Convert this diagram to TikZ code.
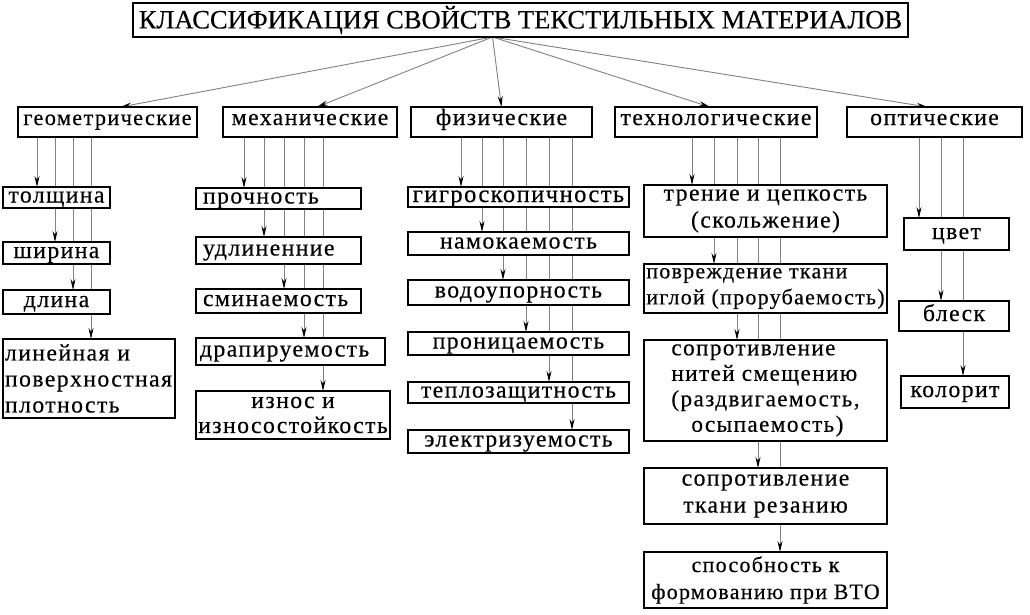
\documentclass[tikz,border=0pt]{standalone}
\usepackage{fontspec}
\setmainfont{Liberation Serif}[FakeBold=0.4]
\newfontfamily\boxfont{Liberation Serif}[LetterSpace=6, FakeBold=0.4]
\newcommand{\boxsize}[2]{\boxfont\fontsize{#1}{#2}\selectfont}
\usetikzlibrary{positioning}
\usetikzlibrary{arrows.meta}
\usetikzlibrary{backgrounds}

\tikzset{
	box/.style={draw, line width=2.4pt, fill=white, inner sep=1pt, outer sep=0pt,
		font=\boxsize{23.7}{27}},
	midbox/.style={box, align=center},
	leftbox/.style={box, align=left, inner xsep=5pt, text width=#1},
	catbox/.style={midbox, minimum height=30pt, text height=14pt, text depth=8pt},
	oneline/.style={text height=15pt, text depth=5pt, inner ysep=0pt},
	feed/.style={draw=gray, line width=0.9pt, -{Stealth[black, length=11pt, width=5pt]}}
}

\begin{document}
\begin{tikzpicture}[x=1pt, y=-1pt]
	\useasboundingbox (0,0) rectangle (1030,615);
	
	\node[
	midbox,
	minimum width=775pt,
	minimum height=34pt,
	font=\fontsize{26.5}{28}\selectfont
	] (Title) at (520.5,20) {КЛАССИФИКАЦИЯ СВОЙСТВ ТЕКСТИЛЬНЫХ МАТЕРИАЛОВ};
	
	\coordinate (Hub) at ([xshift=-28pt]Title.south);
	
	% ---
	
	\node[
	catbox,
	minimum width=179pt,
	font=\boxsize{22.3}{27}
	] (Geom) at (107.5,122) {геометрические};
	
	\node[
	catbox,
	minimum width=174pt,
	right=26pt of Geom
	] (Mech) {механические};
	
	\node[
	catbox,
	minimum width=181pt,
	right=14pt of Mech
	] (Phys) {физические};
	
	\node[
	catbox,
	minimum width=202pt,
	right=23pt of Phys
	] (Tech) {технологические};
	
	\node[
	catbox,
	minimum width=175pt,
	right=30pt of Tech
	] (Opt) {оптические};
	
	% ---
	
	\node[
	midbox,
	oneline,
	minimum width=107pt,
	minimum height=21pt,
	anchor=north west
	] (Thick) at (3,187) {толщина};
	
	\node[
	midbox,
	oneline,
	minimum width=107pt,
	minimum height=22pt,
	below=34pt of Thick
	] (Wide) {ширина};
	
	\node[
	midbox,
	oneline,
	minimum width=107pt,
	minimum height=24pt,
	below=26pt of Wide
	] (Long) {длина};
	
	\node[
	leftbox=168pt,
	inner xsep=2pt,
	inner ysep=0pt,
	minimum height=79pt,
	font=\boxsize{23.7}{26},
	below=25pt of Long.south west,
	anchor=north west
	] (Dens) {линейная и\\поверхностная\\плотность};
	
	% ---
	
	\node[
	leftbox=151pt,
	oneline,
	inner xsep=7pt,
	minimum height=21pt,
	anchor=north west
	] (Strength) at (196,188) {прочность};
	
	\node[
	leftbox=151pt,
	oneline,
	inner xsep=7pt,
	minimum height=27pt,
	below=28pt of Strength
	] (Elong) {удлиненние};
	
	\node[
	leftbox=151pt,
	oneline,
	inner xsep=7pt,
	minimum height=24pt,
	below=25pt of Elong
	] (Crease) {сминаемость};
	
	\node[
	leftbox=181pt,
	oneline,
	inner xsep=4pt,
	minimum height=27pt,
	below=25pt of Crease.south west,
	anchor=north west
	] (Drape) {драпируемость};
	
	\node[
	midbox,
	inner ysep=0pt,
	minimum width=194pt,
	minimum height=48pt,
	font=\boxsize{23.7}{25},
	below=26pt of Drape.south west,
	anchor=north west
	] (Wear) {износ и\\износостойкость};
	
	% ---
	
	\node[
	midbox,
	oneline,
	minimum width=221pt,
	minimum height=20pt,
	font=\boxsize{24.5}{28},
	anchor=north west
	] (Hygro) at (408,187) {гигроскопичность};
	
	\node[
	midbox,
	oneline,
	minimum width=221pt,
	minimum height=23pt,
	below=25pt of Hygro
	] (Wet) {намокаемость};
	
	\node[
	midbox,
	oneline,
	minimum width=221pt,
	minimum height=25pt,
	below=25pt of Wet
	] (Water) {водоупорность};
	
	\node[
	midbox,
	oneline,
	minimum width=221pt,
	minimum height=23pt,
	below=27pt of Water
	] (Perm) {проницаемость};
	
	\node[
	midbox,
	oneline,
	minimum width=221pt,
	minimum height=21pt,
	below=27pt of Perm
	] (Heat) {теплозащитность};
	
	\node[
	midbox,
	oneline,
	minimum width=221pt,
	minimum height=23pt,
	below=27pt of Heat
	] (Electr) {электризуемость};
	
	% ---
	
	\node[
	midbox,
	minimum width=243pt,
	minimum height=52pt,
	inner ysep=0pt,
	anchor=north west
	] (Fric) at (644,185) {трение и цепкость\\(скольжение)};
	
	\node[
	box,
	align=left,
	minimum width=243pt,
	minimum height=49pt,
	font=\boxsize{21.9}{26},
	below=27pt of Fric
	] (Dmg) {повреждение ткани\\иглой (прорубаемость)};
	
	\node[
	box,
	align=left,
	minimum width=243pt,
	minimum height=101pt,
	inner ysep=0pt,
	font=\boxsize{23.2}{25.5},
	below=27pt of Dmg
	] (Slip) {сопротивление\\нитей смещению\\(раздвигаемость,\\\hspace*{20pt}осыпаемость)};
	
	\node[
	midbox,
	minimum width=243pt,
	minimum height=56pt,
	below=27pt of Slip
	] (Cut) {сопротивление\\ткани резанию};
	
	\node[
	midbox,
	minimum width=243pt,
	minimum height=56pt,
	font=\boxsize{21.9}{27},
	below=28pt of Cut
	] (Form) {способность к\\формованию при ВТО};
	
	% ---
	
	\node[
	midbox,
	oneline,
	minimum width=105pt,
	minimum height=32pt,
	anchor=north west
	] (Color) at (904,218) {цвет};
	
	\node[
	midbox,
	oneline,
	minimum width=110pt,
	minimum height=30pt,
	below=51pt of Color.south east,
	anchor=north east
	] (Gloss) {блеск};
	
	\node[
	midbox,
	oneline,
	minimum width=108pt,
	minimum height=32pt,
	below=45pt of Gloss.south east,
	anchor=north east
	] (Colorit) {колорит};
	
	% ---
	
	\begin{scope}[on background layer]
		\foreach \t/\s in {Geom/13, Mech/7, Phys/0, Tech/-6, Opt/-7}
		\draw[feed] (Hub) -- ([xshift=\s pt]\t.north);
		
		\foreach \x/\t in {37/Thick, 55/Wide, 73/Long, 91/Dens}
		\draw[feed] (\x,0 |- Geom.south) -- (\x,0 |- \t.north);
		
		\foreach \x/\t in {244/Strength, 264/Elong, 284/Crease, 304/Drape, 323/Wear}
		\draw[feed] (\x,0 |- Mech.south) -- (\x,0 |- \t.north);
		
		\foreach \x/\t in {461/Hygro, 482/Wet, 503/Water, 526/Perm, 549/Heat, 572/Electr}
		\draw[feed] (\x,0 |- Phys.south) -- (\x,0 |- \t.north);
		
		\foreach \x/\t in {692/Fric, 714/Dmg, 737/Slip, 758/Cut, 780/Form}
		\draw[feed] (\x,0 |- Tech.south) -- (\x,0 |- \t.north);
		
		\foreach \x/\t in {919/Color, 941/Gloss, 963/Colorit}
		\draw[feed] (\x,0 |- Opt.south) -- (\x,0 |- \t.north);
	\end{scope}
\end{tikzpicture}
\end{document}
